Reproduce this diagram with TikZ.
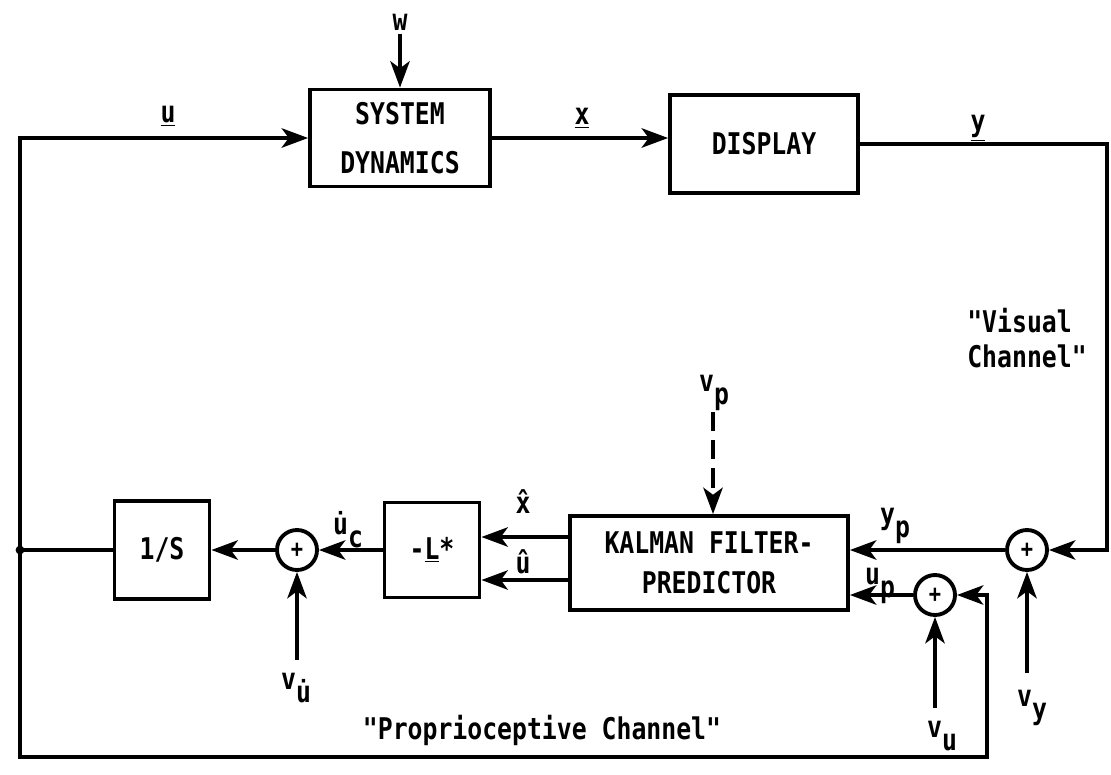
\documentclass[tikz,border=0pt]{standalone}
\usepackage{fontspec}
\usetikzlibrary{arrows.meta,calc}
\newfontfamily\scanfont{DejaVu Sans Mono}[FakeStretch=0.83]
\newcommand{\lowsub}[2]{#1\raisebox{-0.8ex}{#2}}

\begin{document}
\begin{tikzpicture}[x=0.02cm, y=-0.02cm, line width=2.2pt,
  font=\scanfont\bfseries\fontsize{17}{20}\selectfont,
  block/.style={draw, rectangle, inner sep=0pt, align=center},
  sumnode/.style={draw, circle, minimum size=0.8cm, inner sep=0pt,
    font=\scanfont\fontsize{14}{14}\bfseries\selectfont},
  sig/.style={-{Stealth[length=15pt, width=11pt, inset=4pt]}},
  lbl/.style={inner sep=1pt}]
  \useasboundingbox (0,0) rectangle (1111,774);
  % 上段
  \node[block, minimum width=3.6cm, minimum height=1.94cm] (sysdyn) at (400,138) {SYSTEM\\[8pt]DYNAMICS};
  \node[block, minimum width=3.76cm, minimum height=1.96cm] (display) at (764,144) {DISPLAY};
  \node[lbl] (wlbl) at (400,22) {w};
  \node[lbl] (ulbl) at (168,116) {\underline{u}};
  \node[lbl] (xlbl) at (582,118) {\underline{x}};
  \node[lbl] (ylbl) at (978,128) {\underline{y}};
  \draw[sig] (wlbl) -- (sysdyn);
  \draw[sig] (sysdyn.east) -- (sysdyn.east -| display.west);
  % 下段
  \node[block, minimum width=5.56cm, minimum height=1.88cm] (kalman) at (709,563) {KALMAN FILTER-\\[3pt]PREDICTOR};
  \node[block, minimum width=1.9cm, minimum height=1.9cm] (gain) at (432,550) {-\underline{L}*};
  \node[block, minimum width=1.9cm, minimum height=1.96cm] (integ) at (162,550) {1/S};
  \node[sumnode] (sumc) at (297,550) {+};
  \node[sumnode] (sumy) at (1027,550) {+};
  \node[sumnode] (sumu) at (935,595) {+};
  \coordinate (jn) at (20,550);
  \coordinate (br) at (987,757);
  \coordinate (yc) at (1107,550);
  \coordinate (xh) at ($(kalman.west)+(0,-26)$);
  \coordinate (uh) at ($(kalman.west)+(0,17)$);
  \coordinate (vpin) at (713,412);
  \coordinate (vudin) at (297,660);
  \coordinate (vuin) at (935,708);
  \coordinate (vyin) at (1027,673);
  % 視覚
  \draw[sig] (display.east) -| (yc) -- (sumy.east);
  \draw[sig] (sumy) -- (sumy -| kalman.east);
  \draw[sig] (vyin) -- (sumy);
  % 固有受容
  \draw[sig] (jn) |- (br) |- (sumu.east);
  \draw[sig] (sumu) -- (sumu -| kalman.east);
  \draw[sig] (vuin) -- (sumu);
  \draw[sig, dash pattern=on 11pt off 5pt] (vpin) -- (vpin |- kalman.north);
  \draw[sig] (xh) -- (xh -| gain.east);
  \draw[sig] (uh) -- (uh -| gain.east);
  \draw[sig] (gain) -- (sumc);
  \draw[sig] (vudin) -- (sumc);
  \draw[sig] (sumc) -- (integ);
  \draw (integ) -- (jn);
  \fill (jn) circle (2.5pt);
  \draw[sig] (jn) |- (sysdyn.west);
  % ラベル
  \node[lbl] (vplbl) at (714,393) {\lowsub{v}{p}};
  \node[lbl] (yplbl) at (895,526) {\lowsub{y}{p}};
  \node[lbl] (uplbl) at (880,586) {\lowsub{u}{p}};
  \node[lbl] (xhlbl) at (523,502) {\^{x}};
  \node[lbl] (uhlbl) at (523,562) {\^{u}};
  \node[lbl] (uclbl) at (348,530) {\lowsub{\.{u}}{c}};
  \node[lbl] (vudlbl) at (296,688) {\lowsub{v}{\.{u}}};
  \node[lbl] (vulbl) at (942,736) {\lowsub{v}{u}};
  \node[lbl] (vylbl) at (1032,708) {\lowsub{v}{y}};
  \node[lbl, align=left] (vislbl) at (1027,338) {"Visual\\Channel"};
  \node[lbl] (prolbl) at (542,730) {"Proprioceptive Channel"};
\end{tikzpicture}
\end{document}
